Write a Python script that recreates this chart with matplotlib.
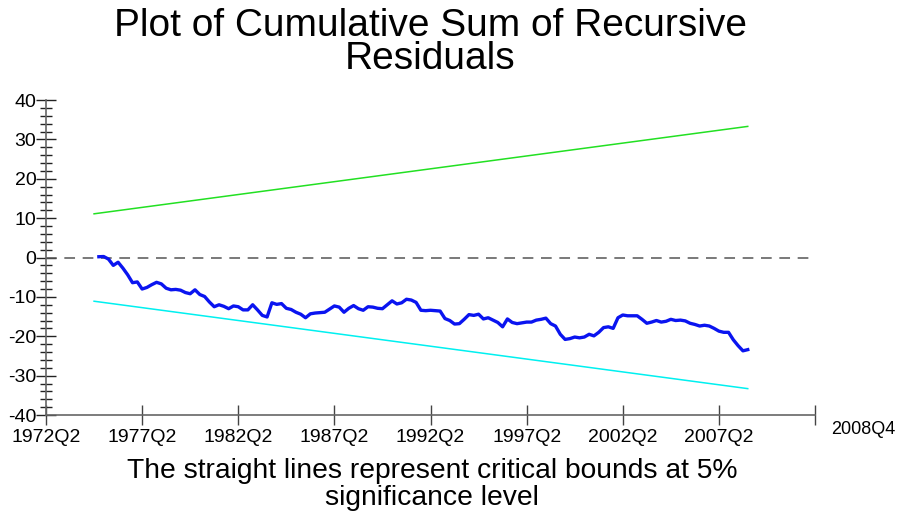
import numpy as np
import matplotlib
matplotlib.use("Agg")
import matplotlib.pyplot as plt

plt.rcParams["font.family"] = ["Liberation Sans", "DejaVu Sans"]
plt.rcParams["axes.unicode_minus"] = False

# quarters counted from 1972Q2 (= 0)
first_q = 11  # 1975Q1
cusum = [
    0.2, 0.25, -0.4, -2.0, -1.2, -2.7, -4.4, -6.4, -6.2, -8.0,
    -7.6, -6.9, -6.3, -6.7, -7.8, -8.2, -8.1, -8.3, -8.9, -9.2,
    -8.2, -9.4, -9.9, -11.3, -12.5, -12.0, -12.4, -13.0, -12.3, -12.5,
    -13.3, -13.3, -12.0, -13.3, -14.7, -15.1, -11.5, -11.9, -11.7, -12.9,
    -13.2, -13.9, -14.4, -15.3, -14.3, -14.1, -14.0, -13.9, -13.1, -12.3,
    -12.6, -13.9, -12.9, -12.2, -13.0, -13.4, -12.5, -12.6, -12.9, -13.0,
    -12.0, -11.0, -11.8, -11.5, -10.6, -10.8, -11.4, -13.4, -13.5, -13.4,
    -13.5, -13.6, -15.5, -16.0, -16.9, -16.8, -15.7, -14.5, -14.7, -14.4,
    -15.6, -15.3, -15.9, -16.5, -17.6, -15.6, -16.5, -16.8, -16.6, -16.4,
    -16.4, -15.9, -15.7, -15.4, -16.8, -17.4, -19.5, -20.8, -20.6, -20.2,
    -20.4, -20.2, -19.5, -19.9, -19.0, -17.8, -17.6, -18.0, -15.3, -14.6,
    -14.8, -14.8, -14.8, -15.7, -16.7, -16.4, -16.0, -16.4, -16.2, -15.7,
    -16.0, -15.9, -16.1, -16.7, -17.0, -17.4, -17.2, -17.4, -18.0, -18.7,
    -19.0, -19.0, -20.9, -22.4, -23.7, -23.4,
]
bound_q = [10, 146]          # 1974Q4 .. 2008Q4
upper_bound = [11.1, 33.3]
lower_bound = [-11.1, -33.3]

xtick_q = [0, 20, 40, 60, 80, 100, 120, 140, 160]
xtick_labels = ["1972Q2", "1977Q2", "1982Q2", "1987Q2", "1992Q2",
                "1997Q2", "2002Q2", "2007Q2", ""]
end_label = "2008Q4"

title = "Plot of Cumulative Sum of Recursive\nResiduals"
caption = "The straight lines represent critical bounds at 5%\nsignificance level"

fig = plt.figure(figsize=(9, 5.14), dpi=100)
ax = fig.add_axes([0.0511, 0.1926, 0.8545, 0.6128])

x = np.arange(len(cusum)) + first_q
ax.plot(bound_q, upper_bound, color="#22e022", lw=1.1)
ax.plot(bound_q, lower_bound, color="#00f0f0", lw=1.1)
ax.plot([0, 160], [0, 0], color="#555555", lw=1.1, ls=(0, (7, 5)))
ax.plot(x, cusum, color="#0a14f0", lw=2.4, solid_joinstyle="round")

ax.set_xlim(0, 160)
ax.set_ylim(-40, 40)
for s in ("top", "right"):
    ax.spines[s].set_visible(False)
for s in ("left", "bottom"):
    ax.spines[s].set_color("#666666")
    ax.spines[s].set_linewidth(1.2)

ax.set_yticks(np.arange(-40, 41, 10))
ax.set_yticks(np.arange(-40, 41, 2), minor=True)
ax.tick_params(axis="y", which="major", direction="inout", length=14,
               width=1, color="#222222", labelsize=14, pad=0)
ax.tick_params(axis="y", which="minor", direction="inout", length=8,
               width=1, color="#222222")
ax.set_xticks(xtick_q)
ax.set_xticklabels(xtick_labels)
ax.tick_params(axis="x", direction="inout", length=14, width=1,
               color="#444444", labelsize=14, pad=3)

ax.text(163.3, -43.6, end_label, fontsize=13, ha="left", va="center",
        clip_on=False)

fig.text(0.478, 0.985, title, ha="center", va="top", fontsize=28,
         linespacing=0.9)
fig.text(0.48, 0.108, caption, ha="center", va="top", fontsize=20.3,
         linespacing=1.05)

fig.savefig("out.png", dpi=100)
